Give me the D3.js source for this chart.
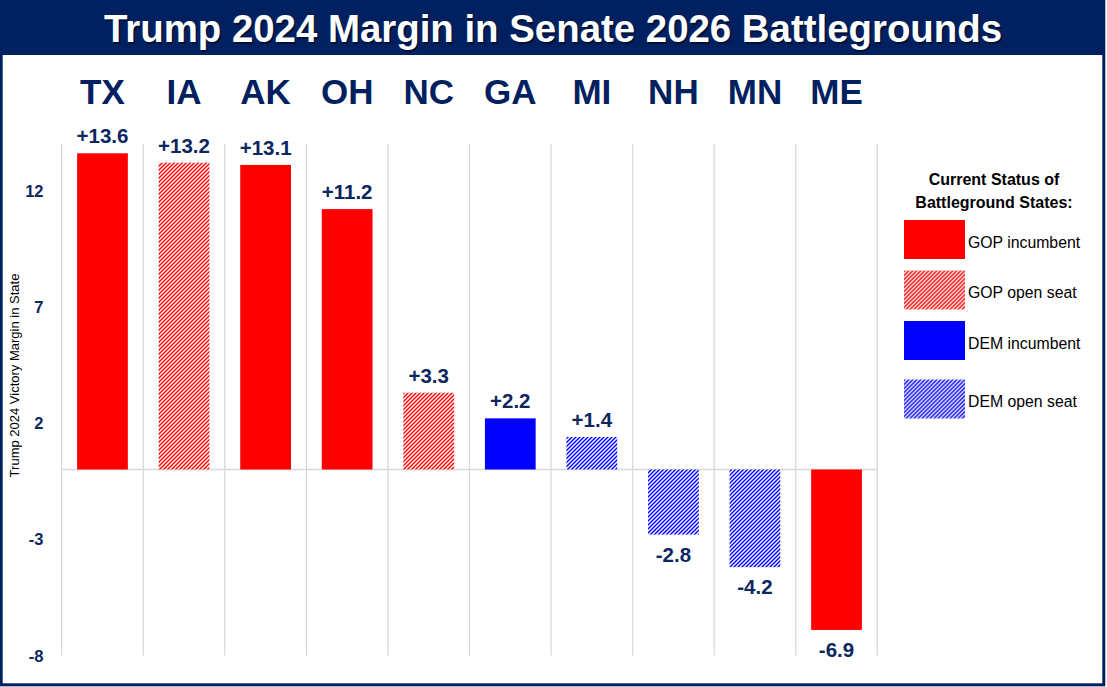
<!doctype html>
<html lang="en">
<head>
    <meta charset="UTF-8">
    <title>Trump 2024 Margin in Senate 2026 Battlegrounds</title>
    <style>
        html, body {
            margin: 0;
            padding: 0;
            background: #fff;
            font-family: 'Liberation Sans', Arial, sans-serif;
        }

        svg {
            display: block;
        }
    </style>
</head>
<body>
<svg width="1107" height="687"></svg>
<script src="https://d3js.org/d3.v7.min.js"></script>
<script>
  const states = ['TX', 'IA', 'AK', 'OH', 'NC', 'GA', 'MI', 'NH', 'MN', 'ME']
  const margins = [13.6, 13.2, 13.1, 11.2, 3.3, 2.2, 1.4, -2.8, -4.2, -6.9]
  const seatStatus = ['GOP incumbent', 'GOP open seat', 'GOP incumbent', 'GOP incumbent', 'GOP open seat',
    'DEM incumbent', 'DEM open seat', 'DEM open seat', 'DEM open seat', 'GOP incumbent']
  const statusTypes = ['GOP incumbent', 'GOP open seat', 'DEM incumbent', 'DEM open seat']
  const yTicks = [12, 7, 2, -3, -8]

  const navy = '#002060'
  const labelNavy = '#0c2660'

  const svg = d3.select('svg')

  // "/" hatch, 4px horizontal period, half coloured
  const defs = svg.append('defs')
  const addHatch = (id, color) => {
    const p = defs.append('pattern')
      .attr('id', id)
      .attr('patternUnits', 'userSpaceOnUse')
      .attr('width', 8)
      .attr('height', 8)
    p.append('rect').attr('width', 8).attr('height', 8).attr('fill', '#fff')
    const bands = [-4, 0, 4, 8, 12].map(c => `M${c},0L${c + 2},0L${c - 6},8L${c - 8},8Z`).join('')
    p.append('path').attr('d', bands).attr('fill', color)
  }
  addHatch('hatch-red', '#ff0000')
  addHatch('hatch-blue', '#0000ff')

  const fillFor = s => ({
    'GOP incumbent': '#ff0000',
    'GOP open seat': 'url(#hatch-red)',
    'DEM incumbent': '#0000ff',
    'DEM open seat': 'url(#hatch-blue)'
  })[s]

  // frame + title band
  svg.append('rect')
    .attr('width', 1107).attr('height', 687).attr('fill', '#fff')
  svg.append('rect')
    .attr('x', 0).attr('y', 0).attr('width', 1105).attr('height', 55)
    .attr('fill', navy)
  svg.append('text')
    .attr('x', 554.5).attr('y', 43.5)
    .attr('text-anchor', 'middle')
    .attr('font-size', 38.4).attr('font-weight', 'bold')
    .attr('fill', '#000').attr('opacity', 0.45)
    .text('Trump 2024 Margin in Senate 2026 Battlegrounds')
  svg.append('text')
    .attr('x', 553).attr('y', 42)
    .attr('text-anchor', 'middle')
    .attr('font-size', 38.4).attr('font-weight', 'bold')
    .attr('fill', '#fff')
    .text('Trump 2024 Margin in Senate 2026 Battlegrounds')

  const x = d3.scaleBand()
    .domain(states)
    .range([61.7, 877.3])
    .paddingInner(0.378)
    .paddingOuter(0.189)

  const y = d3.scaleLinear()
    .domain([-8, 14])
    .range([655.5, 144])

  const gap = (x.step() - x.bandwidth()) / 2
  const cellEdges = states.map(d => x(d) - gap).concat([x(states[states.length - 1]) + x.bandwidth() + gap])

  // vertical grid
  svg.append('g')
    .selectAll('line')
    .data(cellEdges)
    .enter()
    .append('line')
    .attr('x1', d => d).attr('x2', d => d)
    .attr('y1', y(14)).attr('y2', y(-8))
    .attr('stroke', '#d9d9d9').attr('stroke-width', 1.3)

  // zero line
  svg.append('line')
    .attr('x1', x.range()[0]).attr('x2', x.range()[1])
    .attr('y1', y(0)).attr('y2', y(0))
    .attr('stroke', '#d9d9d9').attr('stroke-width', 1.3)

  // y axis labels
  svg.append('g')
    .selectAll('text')
    .data(yTicks)
    .enter()
    .append('text')
    .attr('x', 43.5)
    .attr('y', d => y(d) + 6)
    .attr('text-anchor', 'end')
    .attr('font-size', 16.5).attr('font-weight', 'bold')
    .attr('fill', labelNavy)
    .text(d => d)

  svg.append('text')
    .attr('transform', 'translate(18.5,375.5) rotate(-90)')
    .attr('text-anchor', 'middle')
    .attr('font-size', 13)
    .attr('fill', '#000')
    .text('Trump 2024 Victory Margin in State')

  // bars
  svg.append('g')
    .selectAll('rect')
    .data(states)
    .enter()
    .append('rect')
    .attr('x', d => x(d))
    .attr('width', x.bandwidth())
    .attr('y', (d, i) => y(Math.max(0, margins[i])))
    .attr('height', (d, i) => Math.abs(y(margins[i]) - y(0)))
    .attr('fill', (d, i) => fillFor(seatStatus[i]))

  // value labels
  svg.append('g')
    .selectAll('text')
    .data(states)
    .enter()
    .append('text')
    .attr('x', d => x(d) + x.bandwidth() / 2)
    .attr('y', (d, i) => margins[i] >= 0 ? y(margins[i]) - 10 : y(margins[i]) + 27)
    .attr('text-anchor', 'middle')
    .attr('font-size', 20.5).attr('font-weight', 'bold')
    .attr('fill', labelNavy)
    .text((d, i) => margins[i] > 0 ? '+' + margins[i].toFixed(1) : margins[i].toFixed(1))

  // state labels
  svg.append('g')
    .selectAll('text')
    .data(states)
    .enter()
    .append('text')
    .attr('x', d => x(d) + x.bandwidth() / 2)
    .attr('y', 104)
    .attr('text-anchor', 'middle')
    .attr('font-size', 35).attr('font-weight', 'bold')
    .attr('fill', navy)
    .text(d => d)

  // legend
  const legend = svg.append('g').attr('id', 'legend')
  legend.append('text')
    .attr('x', 994).attr('y', 185)
    .attr('text-anchor', 'middle')
    .attr('font-size', 16).attr('font-weight', 'bold')
    .text('Current Status of')
  legend.append('text')
    .attr('x', 994).attr('y', 207.5)
    .attr('text-anchor', 'middle')
    .attr('font-size', 16).attr('font-weight', 'bold')
    .text('Battleground States:')

  const legendY = (d, i) => 220 + i * 50.5 + (i === 3 ? 8 : 0)
  const items = legend.selectAll('g.item')
    .data(statusTypes)
    .enter()
    .append('g')
    .attr('class', 'item')
    .attr('transform', (d, i) => `translate(904,${legendY(d, i)})`)
  items.append('rect')
    .attr('width', 61).attr('height', 39)
    .attr('fill', d => fillFor(d))
  items.append('text')
    .attr('x', 64).attr('y', 27.5)
    .attr('font-size', 15.8)
    .attr('fill', '#000')
    .text(d => d)

  // outer border
  svg.append('rect')
    .attr('x', 1.2).attr('y', 1.2)
    .attr('width', 1102.6).attr('height', 683.6)
    .attr('fill', 'none')
    .attr('stroke', navy).attr('stroke-width', 3)
</script>
</body>
</html>
